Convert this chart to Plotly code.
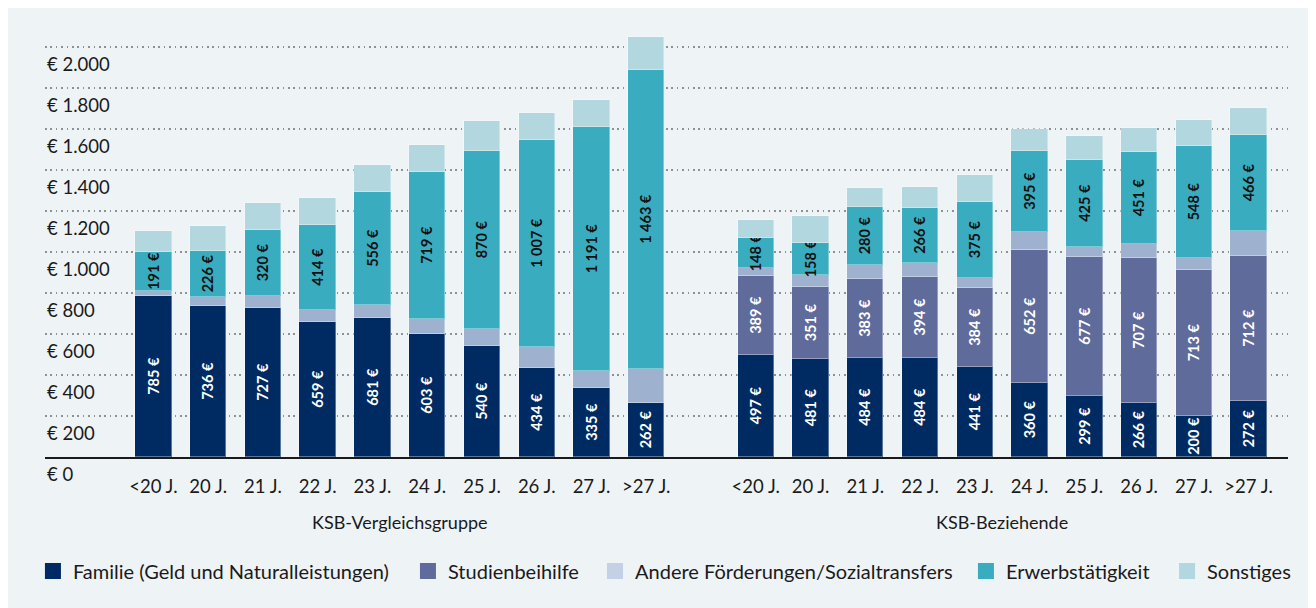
import plotly.graph_objects as go

ages = ["<20 J.", "20 J.", "21 J.", "22 J.", "23 J.", "24 J.", "25 J.", "26 J.", "27 J.", ">27 J."]
groups = ["KSB-Vergleichsgruppe", "KSB-Beziehende"]
series_names = ["Familie (Geld und Naturalleistungen)", "Studienbeihilfe",
                "Andere Förderungen/Sozialtransfers", "Erwerbstätigkeit", "Sonstiges"]

# KSB-Vergleichsgruppe
v_familie = [785, 736, 727, 659, 681, 603, 540, 434, 335, 262]
v_studien = [0, 0, 0, 0, 0, 0, 0, 0, 0, 0]
v_andere = [27, 44, 60, 58, 59, 70, 86, 105, 84, 167]
v_erwerb = [191, 226, 320, 414, 556, 719, 870, 1007, 1191, 1463]
v_sonst = [103, 122, 135, 132, 128, 134, 145, 135, 134, 161]

# KSB-Beziehende
b_familie = [497, 481, 484, 484, 441, 360, 299, 266, 200, 272]
b_studien = [389, 351, 383, 394, 384, 652, 677, 707, 713, 712]
b_andere = [38, 56, 73, 71, 47, 86, 48, 68, 58, 121]
b_erwerb = [148, 158, 280, 266, 375, 395, 425, 451, 548, 466]
b_sonst = [84, 130, 92, 104, 132, 107, 121, 115, 128, 135]

y_ticks = [0, 200, 400, 600, 800, 1000, 1200, 1400, 1600, 1800, 2000]
y_ticktext = ["€ 0", "€ 200", "€ 400", "€ 600", "€ 800", "€ 1.000", "€ 1.200",
              "€ 1.400", "€ 1.600", "€ 1.800", "€ 2.000"]

colors = ["#002B62", "#5F6B9B", "#9EB2D0", "#3AACBF", "#B2D7DF"]
legend_colors = ["#002B62", "#5F6B9B", "#C3D0E5", "#3AACBF", "#B2D7DF"]
text_colors = ["#FFFFFF", "#FFFFFF", "#000000", "#111111", "#000000"]
labelled = [True, True, False, True, False]

# horizontal placement (paper x) of each legend entry
legend_x = [-0.0097, 0.2920, 0.4425, 0.7409, 0.9027]

FONT = "Lato"
BG = "#EEF3F6"
INK = "#1a1a1a"

n = len(ages)
x_left = list(range(n))
x_right = [i + n + 1 for i in range(n)]
x_all = x_left + x_right

left_series = [v_familie, v_studien, v_andere, v_erwerb, v_sonst]
right_series = [b_familie, b_studien, b_andere, b_erwerb, b_sonst]


def fmt(v):
    return f"{v:,}".replace(",", " ") + " €" if v else ""


fig = go.Figure()
legend_layout = {}
for k, name in enumerate(series_names):
    vals = left_series[k] + right_series[k]
    texts = [fmt(v) for v in vals] if labelled[k] else None
    fig.add_trace(go.Bar(
        name=name,
        legendgroup=name,
        showlegend=False,
        x=x_all,
        y=vals,
        width=0.665,
        marker=dict(color=colors[k], line=dict(color="rgba(255,255,255,0.35)", width=1)),
        text=texts,
        textposition="inside" if labelled[k] else "none",
        insidetextanchor="middle",
        textangle=-90,
        textfont=dict(family=FONT, size=14.5, color=text_colors[k], weight=700),
        hoverinfo="skip",
    ))
    lid = "legend" if k == 0 else f"legend{k + 1}"
    # legend entry with a larger square swatch
    fig.add_trace(go.Scatter(
        name=name, legendgroup=name, legend=lid, x=[None], y=[None], mode="markers",
        marker=dict(symbol="square", size=16, color=legend_colors[k]),
        showlegend=True, hoverinfo="skip",
    ))
    legend_layout[lid] = dict(orientation="h", x=legend_x[k], xanchor="left",
                              y=-0.265, yanchor="middle",
                              font=dict(family=FONT, size=20, color=INK),
                              itemclick=False, bgcolor="rgba(0,0,0,0)")

# group labels
for g, xs in zip(groups, [x_left, x_right]):
    fig.add_annotation(x=(xs[0] + xs[-1]) / 2, y=-0.151, xref="x", yref="paper",
                       text=g, showarrow=False, yanchor="middle",
                       font=dict(family=FONT, size=18, color=INK))

# y tick labels placed just under their gridlines
for v, t in zip(y_ticks, y_ticktext):
    fig.add_annotation(x=0, xref="paper", y=v, yref="y", text=t, showarrow=False,
                       xanchor="left", yanchor="top", yshift=-4,
                       font=dict(family=FONT, size=18.5, color=INK))

fig.update_layout(
    width=1316, height=608,
    margin=dict(l=37, r=36, t=19, b=159),
    paper_bgcolor=BG,
    plot_bgcolor=BG,
    barmode="stack",
    bargap=0,
    font=dict(family=FONT, size=16, color=INK),
    uniformtext=dict(minsize=14.5, mode="show"),
    showlegend=True,
    xaxis=dict(
        range=[-1.98, 20.72],
        tickmode="array", tickvals=x_all, ticktext=ages + ages,
        showgrid=False, zeroline=False,
        showline=True, linecolor=INK, linewidth=1.5,
        ticks="outside", ticklen=12, tickcolor="rgba(0,0,0,0)",
        tickfont=dict(family=FONT, size=18.5, color=INK),
    ),
    yaxis=dict(
        range=[0, 2100],
        tickmode="array", tickvals=y_ticks,
        showticklabels=False,
        showgrid=True, gridcolor="#8c9196", griddash="1.5px,3.9px", gridwidth=1.5,
        zeroline=False, showline=False,
    ),
    **legend_layout,
)

fig.write_html("out.html")
